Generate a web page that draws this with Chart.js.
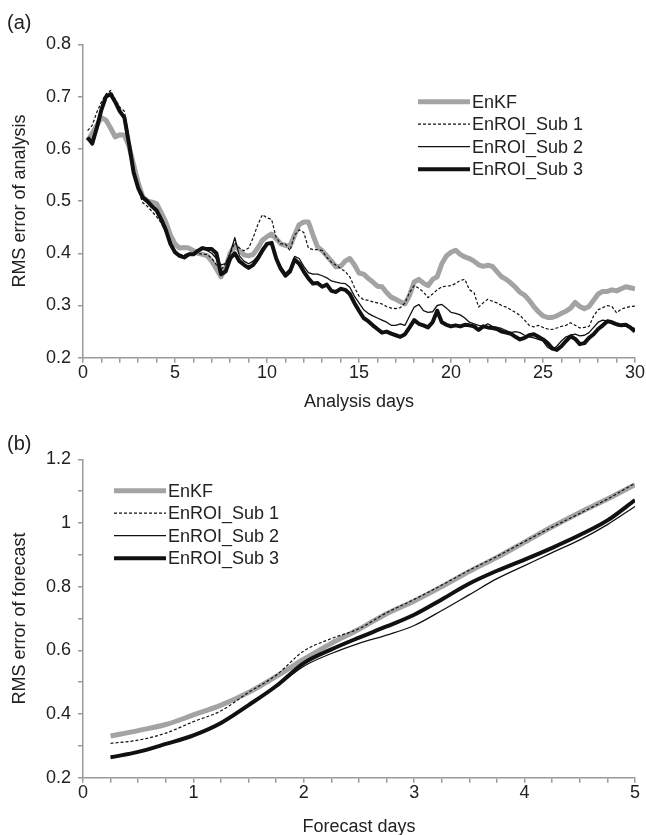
<!DOCTYPE html>
<html><head><meta charset="utf-8">
<style>
html,body{margin:0;padding:0;background:#fff;overflow:hidden;width:646px;height:835px;}
#wrap{position:relative;width:646px;height:835px;overflow:hidden;}
canvas{position:absolute;left:0;}
.tag{position:absolute;left:7px;font:20px "Liberation Sans",Arial,sans-serif;color:#222;line-height:24px;}
</style>
<script src="https://cdn.jsdelivr.net/npm/chart.js@4.4.1/dist/chart.umd.min.js"></script>
</head><body>
<div id="wrap">
<canvas id="ca" width="646" height="420" style="top:0"></canvas>
<canvas id="cb" width="646" height="420" style="top:420px"></canvas>
<div class="tag" style="top:10px">(a)</div>
<div class="tag" style="top:431px">(b)</div>
</div>
<script>
// ---------- DATA ----------
const seriesNames = ["EnKF", "EnROI_Sub 1", "EnROI_Sub 2", "EnROI_Sub 3"];

// (a) analysis days
const analysisDays = [
 0.25,0.5,0.75,1,1.25,1.5,1.75,2,2.25,2.5,
 2.75,3,3.25,3.5,3.75,4,4.25,4.5,4.75,5,
 5.25,5.5,5.75,6,6.25,6.5,6.75,7,7.25,7.5,
 7.75,8,8.25,8.5,8.75,9,9.25,9.5,9.75,10,
 10.25,10.5,10.75,11,11.25,11.5,11.75,12,12.25,12.5,
 12.75,13,13.25,13.5,13.75,14,14.25,14.5,14.75,15,
 15.25,15.5,15.75,16,16.25,16.5,16.75,17,17.25,17.5,
 17.75,18,18.25,18.5,18.75,19,19.25,19.5,19.75,20,
 20.25,20.5,20.75,21,21.25,21.5,21.75,22,22.25,22.5,
 22.75,23,23.25,23.5,23.75,24,24.25,24.5,24.75,25,
 25.25,25.5,25.75,26,26.25,26.5,26.75,27,27.25,27.5,
 27.75,28,28.25,28.5,28.75,29,29.25,29.5,29.75,30
];
const analysisEnKF = [
 0.615,0.63,0.645,0.66,0.655,0.64,0.623,0.627,0.626,0.605,
 0.57,0.535,0.508,0.50,0.498,0.495,0.478,0.46,0.435,0.418,
 0.41,0.411,0.41,0.405,0.40,0.398,0.395,0.385,0.37,0.355,
 0.372,0.40,0.415,0.405,0.397,0.395,0.398,0.41,0.425,0.432,
 0.437,0.428,0.418,0.415,0.414,0.435,0.455,0.46,0.46,0.435,
 0.412,0.405,0.395,0.385,0.374,0.375,0.385,0.39,0.378,0.362,
 0.36,0.352,0.345,0.337,0.336,0.325,0.316,0.312,0.307,0.303,
 0.32,0.345,0.35,0.343,0.338,0.35,0.355,0.38,0.395,0.402,
 0.406,0.398,0.393,0.39,0.385,0.378,0.375,0.377,0.375,0.365,
 0.355,0.35,0.343,0.335,0.325,0.32,0.31,0.298,0.288,0.28,
 0.277,0.277,0.28,0.285,0.289,0.295,0.306,0.298,0.294,0.298,
 0.31,0.322,0.327,0.327,0.33,0.328,0.332,0.336,0.334,0.332
];
const analysisSub1 = [
 0.635,0.645,0.67,0.69,0.705,0.712,0.695,0.68,0.672,0.62,
 0.56,0.52,0.497,0.49,0.48,0.47,0.458,0.44,0.42,0.405,
 0.398,0.397,0.40,0.40,0.40,0.398,0.398,0.39,0.378,0.368,
 0.38,0.40,0.42,0.41,0.405,0.41,0.43,0.455,0.474,0.468,
 0.465,0.43,0.418,0.418,0.405,0.435,0.445,0.44,0.41,0.407,
 0.407,0.405,0.392,0.383,0.377,0.371,0.365,0.355,0.335,0.318,
 0.311,0.31,0.307,0.305,0.303,0.298,0.295,0.294,0.296,0.305,
 0.325,0.338,0.333,0.326,0.315,0.322,0.33,0.336,0.337,0.338,
 0.342,0.348,0.35,0.33,0.325,0.297,0.305,0.312,0.308,0.305,
 0.30,0.297,0.292,0.287,0.281,0.272,0.262,0.259,0.262,0.258,
 0.255,0.254,0.257,0.26,0.262,0.267,0.262,0.257,0.258,0.26,
 0.28,0.292,0.296,0.30,0.298,0.286,0.293,0.296,0.298,0.299
];
const analysisSub2 = [
 0.62,0.615,0.645,0.68,0.70,0.705,0.69,0.675,0.662,0.615,
 0.56,0.525,0.507,0.50,0.49,0.48,0.465,0.445,0.42,0.403,
 0.395,0.393,0.397,0.40,0.405,0.41,0.405,0.40,0.39,0.378,
 0.38,0.40,0.43,0.395,0.385,0.38,0.385,0.395,0.41,0.418,
 0.42,0.39,0.375,0.362,0.37,0.394,0.39,0.375,0.363,0.36,
 0.36,0.357,0.353,0.347,0.345,0.343,0.342,0.335,0.318,0.305,
 0.292,0.285,0.28,0.276,0.272,0.268,0.262,0.262,0.265,0.262,
 0.28,0.297,0.302,0.29,0.287,0.288,0.30,0.302,0.295,0.287,
 0.285,0.282,0.276,0.268,0.265,0.262,0.26,0.265,0.26,0.258,
 0.256,0.252,0.248,0.25,0.248,0.243,0.24,0.238,0.235,0.232,
 0.22,0.215,0.222,0.232,0.24,0.243,0.245,0.242,0.243,0.248,
 0.258,0.268,0.272,0.27,0.265,0.262,0.26,0.262,0.258,0.256
];
const analysisSub3 = [
 0.622,0.61,0.64,0.675,0.70,0.705,0.69,0.672,0.66,0.61,
 0.555,0.525,0.507,0.50,0.49,0.482,0.465,0.445,0.418,0.402,
 0.395,0.392,0.398,0.398,0.405,0.41,0.408,0.408,0.40,0.36,
 0.365,0.39,0.40,0.385,0.378,0.372,0.378,0.39,0.405,0.418,
 0.42,0.39,0.37,0.357,0.365,0.388,0.38,0.365,0.352,0.342,
 0.343,0.336,0.34,0.328,0.326,0.332,0.33,0.322,0.305,0.29,
 0.276,0.27,0.262,0.255,0.248,0.25,0.246,0.243,0.24,0.245,
 0.258,0.272,0.265,0.262,0.258,0.268,0.29,0.268,0.263,0.26,
 0.262,0.26,0.263,0.262,0.26,0.253,0.26,0.258,0.257,0.255,
 0.25,0.248,0.246,0.24,0.235,0.238,0.243,0.245,0.24,0.235,
 0.228,0.218,0.215,0.222,0.232,0.241,0.236,0.226,0.228,0.238,
 0.245,0.255,0.262,0.27,0.268,0.264,0.262,0.263,0.258,0.25
];

// (b) forecast days
const forecastDays = [0.25,0.5,0.75,1,1.25,1.5,1.75,2,2.25,2.5,2.75,3,3.25,3.5,3.75,4,4.25,4.5,4.75,5];
const forecastEnKF = [0.331,0.348,0.367,0.397,0.428,0.468,0.518,0.572,0.622,0.666,0.715,0.755,0.80,0.848,0.892,0.94,0.988,1.033,1.075,1.12];
const forecastSub1 = [0.308,0.318,0.34,0.376,0.41,0.468,0.522,0.598,0.637,0.668,0.718,0.76,0.805,0.852,0.895,0.942,0.987,1.03,1.075,1.125];
const forecastSub2 = [0.262,0.28,0.305,0.331,0.37,0.427,0.485,0.55,0.59,0.622,0.648,0.678,0.725,0.775,0.825,0.866,0.907,0.947,0.995,1.052];
const forecastSub3 = [0.264,0.281,0.306,0.333,0.372,0.428,0.488,0.56,0.603,0.64,0.675,0.712,0.76,0.81,0.85,0.885,0.922,0.962,1.008,1.072];

// ---------- STYLE ----------
const FONT = '"Liberation Sans", Arial, sans-serif';
const TXT = '#222';
const AX = '#9a9a9a';
const lineStyles = [
  {color:'#a3a3a3', width:5,   dash:[],    order:3},
  {color:'#111',    width:1.2, dash:[3,2], order:0},
  {color:'#111',    width:1.3, dash:[],    order:1},
  {color:'#111',    width:4,   dash:[],    order:2}
];
Chart.defaults.font.family = FONT;
Chart.defaults.font.size = 18;
Chart.defaults.color = TXT;

function legendPlugin(x, y, gap, len) {
  return {
    id: 'lineLegend',
    afterDatasetsDraw(chart) {
      const ctx = chart.ctx;
      ctx.save();
      chart.data.datasets.forEach((ds, i) => {
        const yy = y + i * gap;
        ctx.beginPath();
        ctx.strokeStyle = ds.borderColor;
        ctx.lineWidth = ds.borderWidth;
        ctx.setLineDash(ds.borderDash || []);
        ctx.moveTo(x, yy);
        ctx.lineTo(x + len, yy);
        ctx.stroke();
        ctx.setLineDash([]);
        ctx.fillStyle = TXT;
        ctx.font = '18px ' + FONT;
        ctx.textBaseline = 'middle';
        ctx.textAlign = 'left';
        ctx.fillText(ds.label, x + len + 2, yy + 1);
      });
      ctx.restore();
    }
  };
}

function makeChart(id, xs, series, o) {
  const datasets = seriesNames.map((name, i) => ({
    label: name,
    data: xs.map((x, j) => ({x: x, y: series[i][j]})),
    borderColor: lineStyles[i].color,
    borderWidth: lineStyles[i].width,
    borderDash: lineStyles[i].dash,
    order: lineStyles[i].order,
    pointRadius: 0,
    fill: false,
    tension: 0,
    cubicInterpolationMode: o.smooth ? 'monotone' : 'default',
    borderJoinStyle: 'round'
  }));
  const gridCfg = {drawOnChartArea:false, drawTicks:true, tickLength:5, color:AX, lineWidth:1.5};
  return new Chart(document.getElementById(id), {
    type: 'line',
    data: {datasets},
    options: {
      responsive: false,
      animation: false,
      layout: {padding: {top: o.padTop, right: 11, left: 0, bottom: 0}},
      plugins: {legend: {display:false}, tooltip: {enabled:false}},
      scales: {
        x: {
          type: 'linear', min: 0, max: o.xmax,
          border: {color: AX, width: 1.5},
          grid: gridCfg,
          ticks: {stepSize: o.xstep, autoSkip: false, maxRotation: 0, padding: 0, color: TXT, font: {size: 18}, callback: o.xlabel},
          title: {display: true, text: o.xtitle, color: TXT, font: {size: 18}, padding: {top: 0, bottom: o.xtpad}},
          afterFit(s) { s.height = 62.3; }
        },
        y: {
          type: 'linear', min: o.ymin, max: o.ymax,
          border: {color: AX, width: 1.5},
          grid: gridCfg,
          ticks: {stepSize: 0.1, autoSkip: false, padding: 7, color: TXT, font: {size: 18}, callback: o.ylabel},
          title: {display: true, text: o.ytitle, color: TXT, font: {size: 18}, padding: {top: 9, bottom: 0}},
          afterFit(s) { s.width = 83; }
        }
      }
    },
    plugins: [legendPlugin(o.lx, o.ly, 22.5, 52)]
  });
}

makeChart('ca', analysisDays, [analysisEnKF, analysisSub1, analysisSub2, analysisSub3], {
  padTop: 44.5, xmax: 30, xstep: 1, ymin: 0.2, ymax: 0.8, xtpad: 7.5,
  xtitle: 'Analysis days', ytitle: 'RMS error of analysis',
  xlabel: v => { const r = Math.round(v); return (Math.abs(v - r) < 1e-6 && r % 5 === 0) ? String(r) : ''; },
  ylabel: v => (Math.round(v * 10) / 10).toFixed(1),
  lx: 418, ly: 101.7, smooth: false
});

makeChart('cb', forecastDays, [forecastEnKF, forecastSub1, forecastSub2, forecastSub3], {
  padTop: 39.3, xmax: 5, xstep: 0.25, ymin: 0.2, ymax: 1.2, xtpad: 2.5,
  xtitle: 'Forecast days', ytitle: 'RMS error of forecast',
  xlabel: v => { const r = Math.round(v); return Math.abs(v - r) < 1e-6 ? String(r) : ''; },
  ylabel: v => { const t = Math.round(v * 10); return t % 2 === 0 ? String(t / 10) : ''; },
  lx: 114, ly: 70.7, smooth: true
});
</script>
</body></html>
